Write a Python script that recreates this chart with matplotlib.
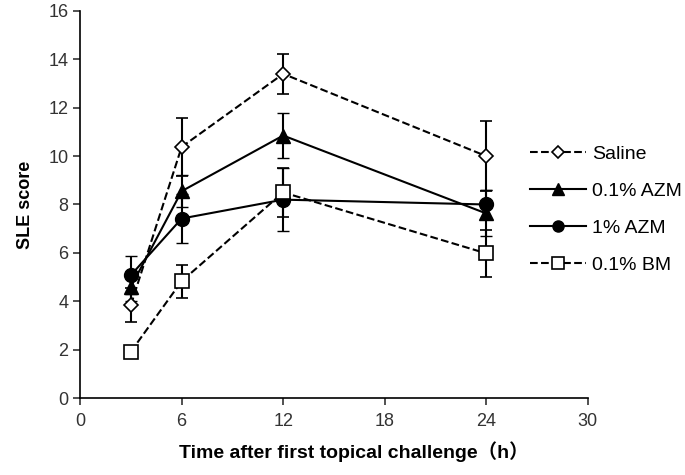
import matplotlib
matplotlib.use("Agg")
import matplotlib.pyplot as plt
from matplotlib.lines import Line2D

plt.rcParams['font.family'] = ['Liberation Sans', 'Noto Sans CJK JP', 'DejaVu Sans']

hours = [3, 6, 12, 24]
saline = [3.85, 10.38, 13.4, 10.0]
saline_err = [0.7, 1.2, 0.83, 1.45]
azm01 = [4.6, 8.55, 10.85, 7.63]
azm01_err = [0.6, 0.65, 0.93, 0.95]
azm1 = [5.08, 7.42, 8.2, 8.0]
azm1_err = [0.8, 1.0, 1.3, 0.6]
bm = [1.92, 4.83, 8.5, 5.98]
bm_err = [0.2, 0.68, 1.0, 0.97]

labels = ['Saline', '0.1% AZM', '1% AZM', '0.1% BM']
xticks = [0, 6, 12, 18, 24, 30]
yticks = [0, 2, 4, 6, 8, 10, 12, 14, 16]

fig = plt.figure(figsize=(6.85, 4.75), dpi=100)
ax = fig.add_axes([0.117, 0.162, 0.741, 0.815])

styles = [
    dict(ls='--', marker='D', ms=7, mfc='white', mew=1.2),
    dict(ls='-', marker='^', ms=10, mfc='black', mew=1.0),
    dict(ls='-', marker='o', ms=10, mfc='black', mew=1.0),
    dict(ls='--', marker='s', ms=10, mfc='white', mew=1.2),
]
legend_ms = [6, 8, 8, 8]
series = [(saline, saline_err), (azm01, azm01_err), (azm1, azm1_err), (bm, bm_err)]

handles = []
for (vals, errs), st, lab, lms in zip(series, styles, labels, legend_ms):
    ax.errorbar(hours, vals, yerr=errs, color='black', ecolor='black', mec='black',
                elinewidth=1.5, capsize=4, capthick=1.5, lw=1.5, **st)
    hst = dict(st)
    hst['ms'] = lms
    handles.append(Line2D([], [], color='black', mec='black', lw=1.5, **hst))

ax.set_xlim(0, 30)
ax.set_ylim(0, 16)
ax.set_xticks(xticks)
ax.set_yticks(yticks)
ax.spines['top'].set_visible(False)
ax.spines['right'].set_visible(False)
ax.spines['left'].set_linewidth(1.2)
ax.spines['bottom'].set_linewidth(1.2)
ax.tick_params(axis='both', direction='out', length=5, width=1.2, labelsize=13, colors='#333333', labelcolor='#333333')
ax.tick_params(axis='x', pad=6)
ax.set_xlabel('Time after first topical challenge（h）', fontsize=14, fontweight='bold', labelpad=8)
ax.xaxis.label.set_x(0.54)
ax.set_ylabel('SLE score', fontsize=13, fontweight='bold', labelpad=10)

fig.legend(handles, labels, loc='center left', bbox_to_anchor=(0.762, 0.559), frameon=False,
           fontsize=14, handlelength=2.9, labelspacing=1.0, handletextpad=0.3, borderaxespad=0)

fig.savefig('out.png', dpi=100)
